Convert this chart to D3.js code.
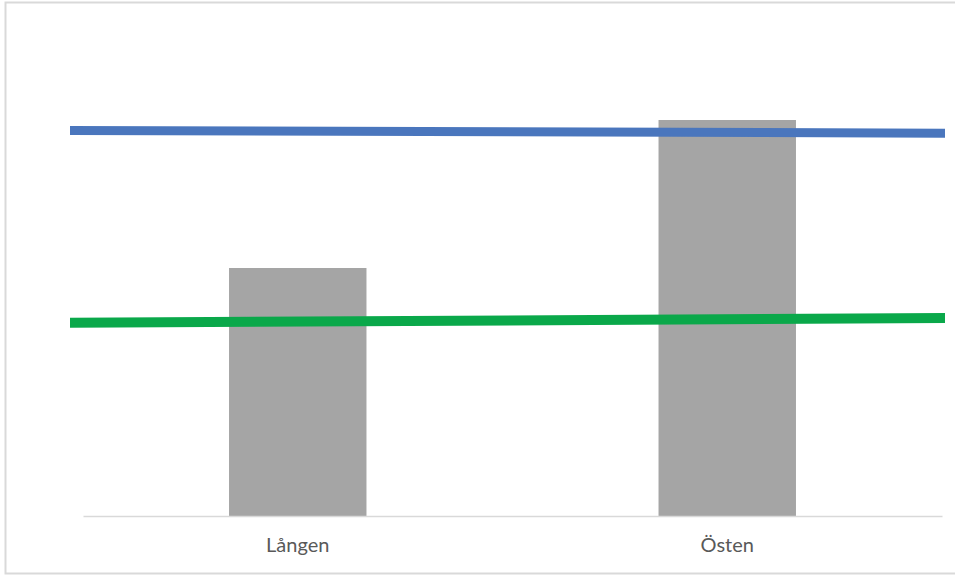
<!DOCTYPE html>
<html>
<head>
<meta charset="utf-8">
<script src="https://cdn.jsdelivr.net/npm/d3@7"></script>
<style>
  html, body { margin: 0; padding: 0; background: #ffffff; overflow: hidden; }
  svg { display: block; overflow: hidden; }
</style>
</head>
<body>
<svg id="chart" width="955" height="575"></svg>
<script>
// Stations and measured values
const categories = ["Lången", "Östen"];
const barValues = [62, 99];

// Reference levels, given at the start and end of the span
const blueLevel = [96.4, 95.7];
const greenLevel = [48.3, 49.5];

const svg = d3.select("#chart");

// Outer frame: top, left and bottom edges only
const frame = svg.append("g")
  .attr("stroke", "#d9d9d9")
  .attr("stroke-width", 2)
  .attr("fill", "none");
frame.append("path").attr("d", d3.line()([[955, 2.5], [5.5, 2.5], [5.5, 573.5], [955, 573.5]]));

const plot = { left: 83, right: 942, top: 116, bottom: 516 };

const x = d3.scaleBand()
  .domain(categories)
  .range([plot.left, plot.right])
  .paddingInner(0.68)
  .paddingOuter(0.34);

const y = d3.scaleLinear()
  .domain([0, 100])
  .range([plot.bottom, plot.top]);

// Lines run wider than the category axis
const xLine = d3.scaleLinear().domain([0, 1]).range([70, 945]);

// Bars
svg.append("g")
  .selectAll("rect")
  .data(categories)
  .join("rect")
  .attr("x", d => x(d))
  .attr("width", x.bandwidth())
  .attr("y", (d, i) => y(barValues[i]))
  .attr("height", (d, i) => y(0) - y(barValues[i]))
  .attr("fill", "#a5a5a5");

// Category axis
const axis = svg.append("g")
  .attr("transform", `translate(0,${plot.bottom})`)
  .call(d3.axisBottom(x).tickSize(0).tickPadding(22));
axis.select(".domain").attr("stroke", "#d9d9d9").attr("stroke-width", 1.5);
axis.selectAll("text")
  .attr("font-family", "Lato, 'Open Sans', sans-serif")
  .attr("font-size", 20)
  .attr("fill", "#595959");

// Reference lines
const line = d3.line()
  .x((d, i) => xLine(i))
  .y(d => y(d));

svg.append("path")
  .datum(greenLevel)
  .attr("d", line)
  .attr("fill", "none")
  .attr("stroke", "#0aa84a")
  .attr("stroke-width", 10);

svg.append("path")
  .datum(blueLevel)
  .attr("d", line)
  .attr("fill", "none")
  .attr("stroke", "#4a76bd")
  .attr("stroke-width", 9);
</script>
</body>
</html>
